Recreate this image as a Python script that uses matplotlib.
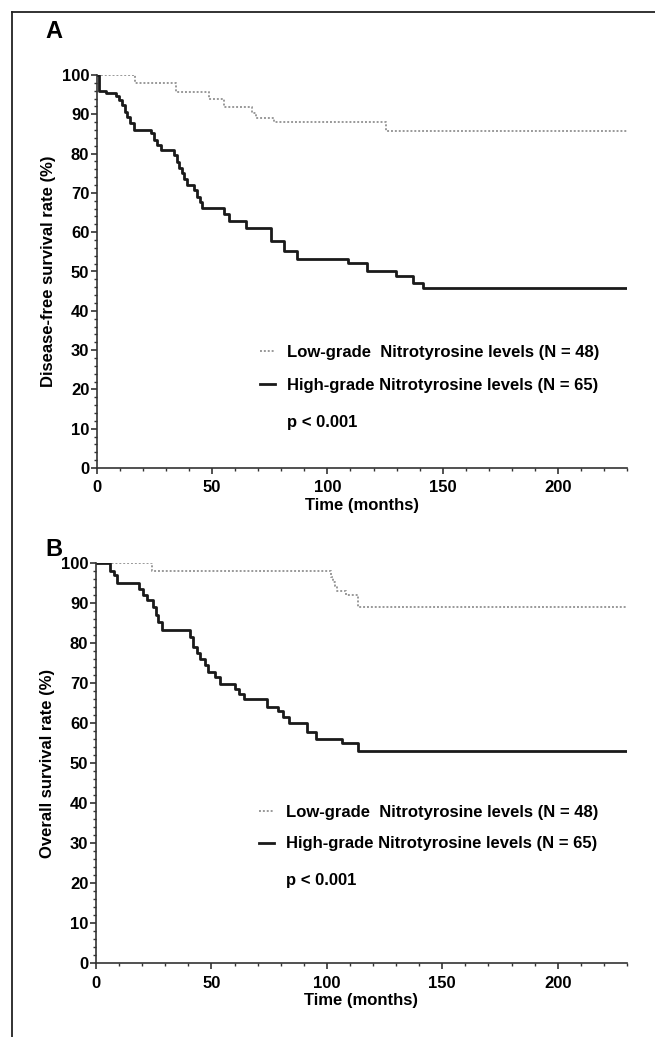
import matplotlib
matplotlib.use("Agg")
import matplotlib.pyplot as plt
from matplotlib.lines import Line2D
from matplotlib.ticker import MultipleLocator

plt.rcParams["font.family"] = ["Liberation Sans", "DejaVu Sans"]
plt.rcParams["font.weight"] = "bold"

# panel A: disease-free survival (months, %)
a_low_t = [0, 16.5, 34.4, 48.5, 55.0, 67.3, 68.8, 77.0, 125.2, 230]
a_low_s = [100, 97.9, 95.7, 93.9, 91.9, 90.4, 89.1, 88.0, 85.8, 85.8]
a_high_t = [0, 1.0, 3.8, 8.1, 9.5, 11.0, 12.3, 13.2, 14.3, 16.1, 23.3, 24.6,
            26.2, 27.7, 33.5, 34.6, 35.7, 36.8, 37.8, 39.0, 41.9, 43.6, 44.6,
            45.7, 54.9, 57.4, 64.8, 75.7, 81.1, 86.9, 108.8, 117.3, 129.6,
            137.1, 141.4, 230]
a_high_s = [100, 96.0, 95.3, 94.6, 93.6, 92.4, 90.7, 89.4, 87.7, 86.0, 85.2,
            83.5, 82.2, 80.9, 79.6, 77.9, 76.3, 75.0, 73.5, 72.0, 70.7, 69.0,
            67.6, 66.1, 64.6, 62.9, 61.0, 57.8, 55.1, 53.1, 52.1, 50.0, 48.9,
            47.0, 45.9, 45.9]

# panel B: overall survival
b_low_t = [0, 24.4, 101.6, 102.5, 103.5, 104.5, 108.5, 113.6, 230]
b_low_s = [100, 98.0, 96.7, 95.4, 94.4, 93.0, 92.1, 89.1, 89.1]
b_high_t = [0, 6.1, 7.8, 9.0, 18.8, 20.3, 21.9, 24.5, 25.8, 27.0, 28.4, 40.7,
            42.2, 43.6, 45.0, 47.2, 48.5, 51.5, 53.7, 60.2, 61.9, 64.1, 73.9,
            78.9, 81.1, 83.5, 91.5, 95.5, 106.4, 113.6, 230]
b_high_s = [100, 98.2, 97.1, 95.2, 93.7, 92.1, 90.8, 89.0, 87.1, 85.4, 83.3,
            81.5, 79.2, 77.5, 76.0, 74.6, 72.9, 71.7, 69.8, 68.5, 67.3, 66.0,
            64.2, 63.2, 61.7, 60.0, 57.9, 56.0, 55.0, 53.1, 53.1]

low_label = "Low-grade  Nitrotyrosine levels (N = 48)"
high_label = "High-grade Nitrotyrosine levels (N = 65)"
p_text = "p < 0.001"

W, H = 655, 1037
fig = plt.figure(figsize=(W / 100, H / 100), dpi=100)

# frame around the figure (cut at right/bottom)
fig.add_artist(Line2D([12 / W, 12 / W], [0, 1 - 12 / H], color="#222", lw=1.3))
fig.add_artist(Line2D([12 / W, 1], [1 - 12 / H, 1 - 12 / H], color="#222", lw=1.3))


def km_panel(rect, low_t, low_s, high_t, high_s, ylabel, leg_y, leg_space, p_y):
    ax = fig.add_axes(rect)
    ax.step(low_t, low_s, where="post", color="#999999", lw=1.4,
            linestyle=(0, (1, 1)), label=low_label)
    ax.step(high_t, high_s, where="post", color="#1a1a1a", lw=2.0,
            label=high_label)
    ax.set_xlim(0, 230)
    ax.set_ylim(0, 100)
    ax.xaxis.set_major_locator(MultipleLocator(50))
    ax.xaxis.set_minor_locator(MultipleLocator(10))
    ax.yaxis.set_major_locator(MultipleLocator(10))
    ax.yaxis.set_minor_locator(MultipleLocator(2))
    for s in ["top", "right"]:
        ax.spines[s].set_visible(False)
    for s in ["left", "bottom"]:
        ax.spines[s].set_linewidth(1.2)
        ax.spines[s].set_color("#333")
    ax.tick_params(which="major", length=4, width=1.2, labelsize=12, pad=1.5,
                   color="#333")
    ax.tick_params(axis="x", which="major", pad=5)
    ax.tick_params(which="minor", length=2, width=1.0, color="#333")
    for lab in ax.get_xticklabels() + ax.get_yticklabels():
        lab.set_fontweight("bold")
    ax.set_xlabel("Time (months)", fontsize=12, fontweight="bold", labelpad=1.5)
    ax.set_ylabel(ylabel, fontsize=12, fontweight="bold", labelpad=4)
    ax.legend(loc="center left", bbox_to_anchor=(0.3075, leg_y), frameon=False,
              handlelength=0.9, handletextpad=0.72,
              borderpad=0, borderaxespad=0, labelspacing=leg_space,
              prop={"weight": "bold", "size": 12})
    ax.text(0.358, p_y, p_text, transform=ax.transAxes, fontsize=12,
            fontweight="bold", va="center", ha="left")
    return ax


km_panel([97 / W, 569 / H, 530 / W, 393 / H], a_low_t, a_low_s, a_high_t,
         a_high_s, "Disease-free survival rate (%)", 0.252, 1.12, 0.117)
km_panel([96 / W, 73.7 / H, 531 / W, 400 / H], b_low_t, b_low_s, b_high_t,
         b_high_s, "Overall survival rate (%)", 0.338, 1.0, 0.206)

fig.text(45 / W, 1 - 31 / H, "A", fontsize=17, fontweight="bold", va="center")
fig.text(45 / W, 1 - 549 / H, "B", fontsize=17, fontweight="bold", va="center")

fig.savefig("out.png", dpi=100)
